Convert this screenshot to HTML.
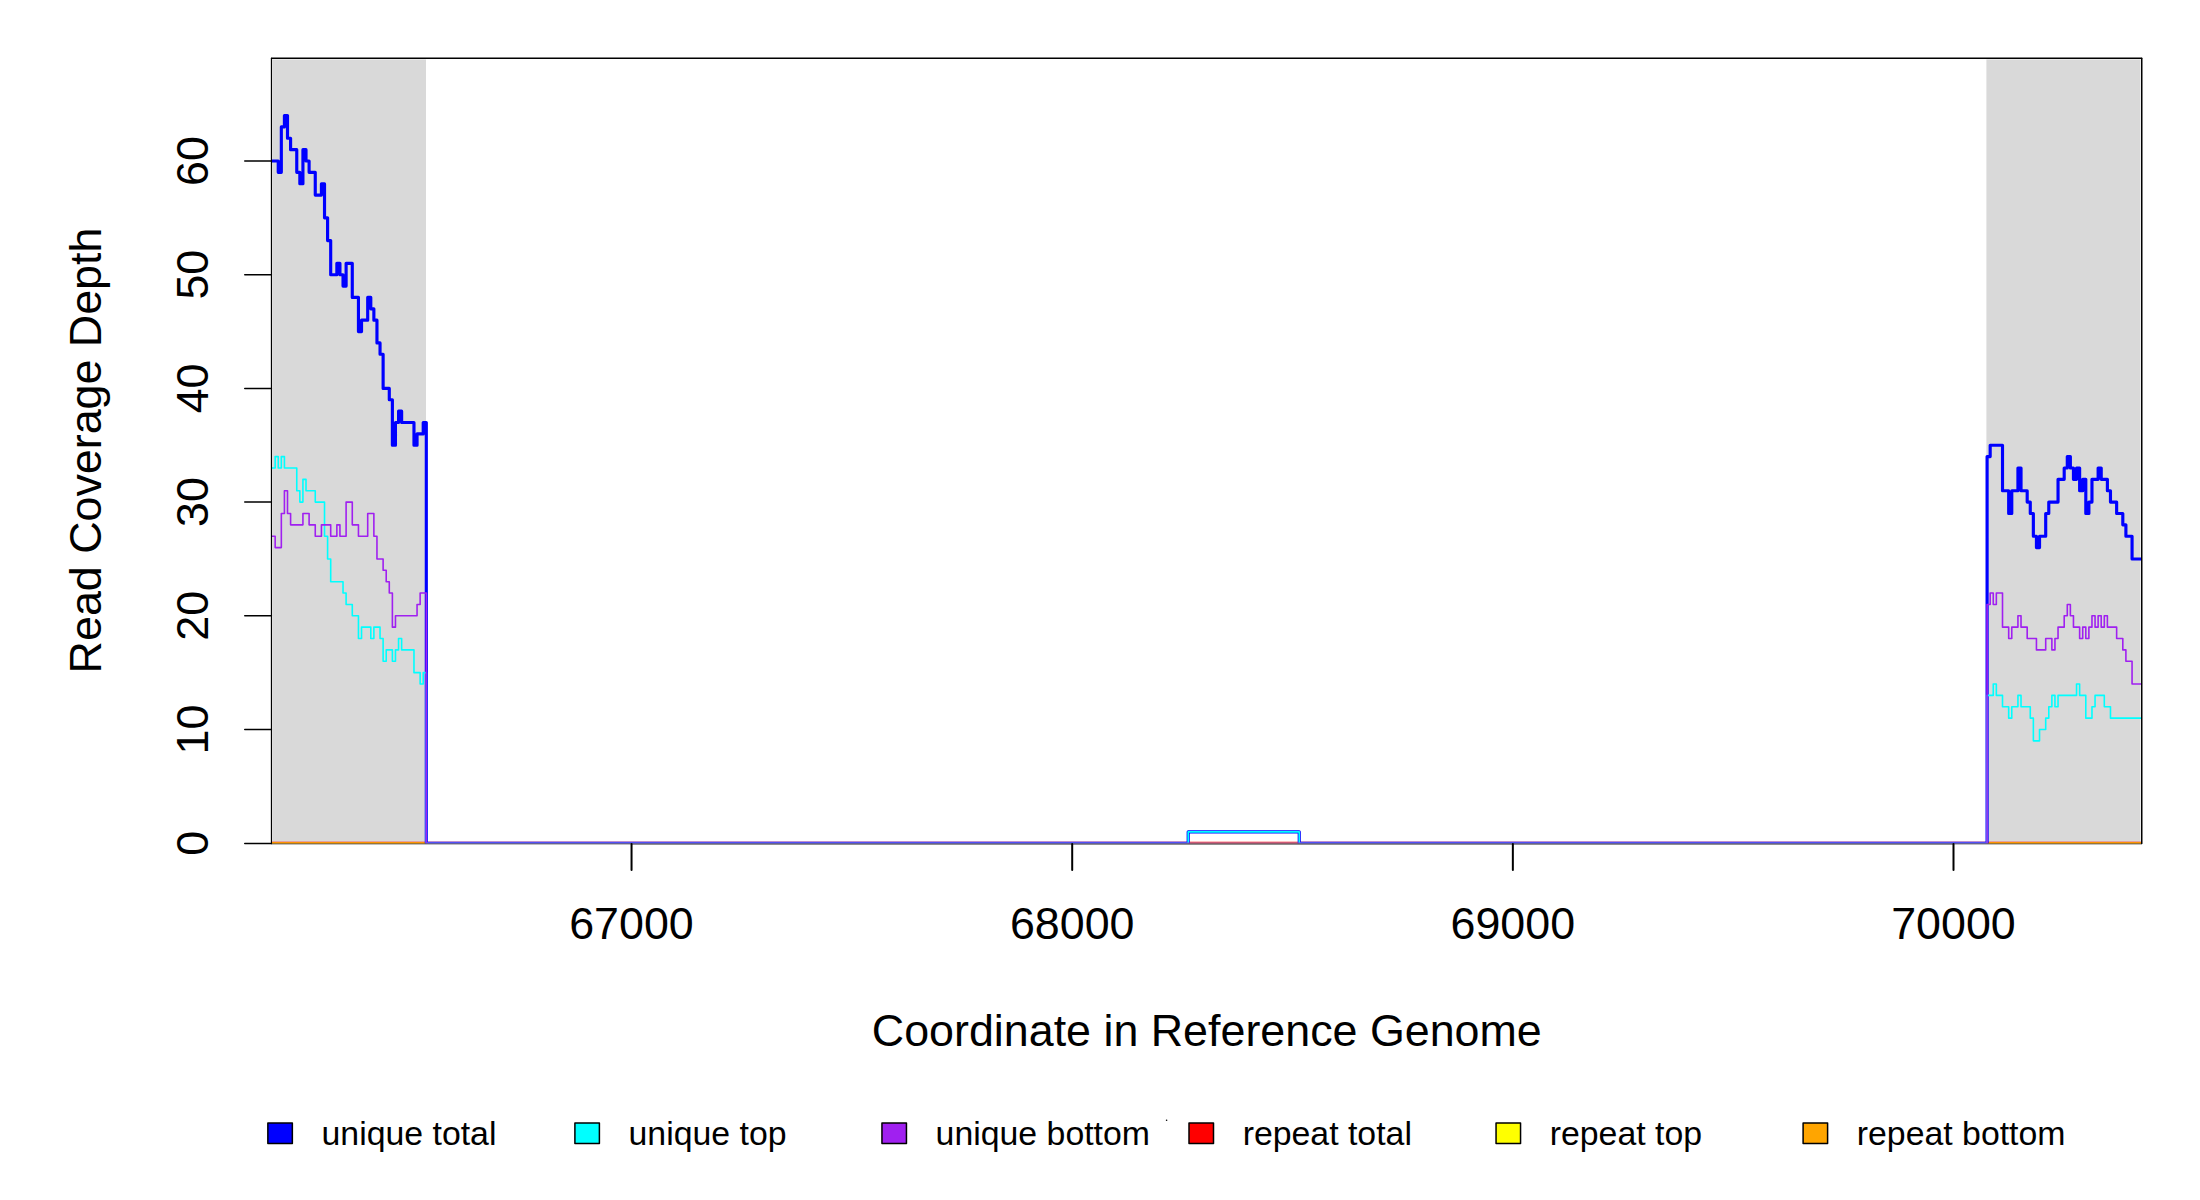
<!DOCTYPE html>
<html lang="en">
<head>
<meta charset="utf-8">
<title>Read Coverage Depth</title>
<style>
html,body{margin:0;padding:0;background:#fff;}
body{width:2200px;height:1200px;overflow:hidden;}
svg{display:block;}
text{font-family:"Liberation Sans",sans-serif;fill:#000;}
.ax{font-size:44.8px;}
.lg{font-size:33.85px;}
.k{stroke:#000;stroke-width:1.5;fill:none;stroke-linecap:round;stroke-linejoin:round;}
.d{fill:none;stroke-linejoin:round;stroke-linecap:round;}
</style>
</head>
<body>
<svg width="2200" height="1200" viewBox="0 0 2200 1200">
<rect x="0" y="0" width="2200" height="1200" fill="#ffffff"/>
<defs><clipPath id="plt"><rect x="271.35" y="58.2" width="1870.4" height="785.35"/></clipPath></defs>
<rect x="272.4" y="59.4" width="153.6" height="784.2" fill="#D9D9D9"/>
<rect x="1986.4" y="59.4" width="154.1" height="784.2" fill="#D9D9D9"/>
<path class="k" style="stroke-width:1.7;stroke-linecap:butt" d="M271.35,843.4H2141.75"/>
<path class="k" style="stroke-width:1.85;stroke-linecap:butt" d="M631.55,843.4H1953.5"/>
<g clip-path="url(#plt)">
<path class="d" stroke="#FF0000" stroke-width="3" d="M269.00,843.20H2144.40"/>
<path class="d" stroke="#FFFF00" stroke-width="1.5" d="M269.00,843.20H2144.40"/>
<path class="d" stroke="#FFA500" stroke-width="1.5" d="M269.00,843.20H2144.40"/>
<path class="d" stroke="#0000FF" stroke-width="3.15" d="M269.00,161.00H278.25V172.37H281.33V126.89H284.42V115.52H287.50V138.26H290.59V149.63H296.76V172.37H299.84V183.74H302.93V149.63H306.01V161.00H309.10V172.37H315.26V195.11H321.43V183.74H324.52V217.85H327.60V240.59H330.69V274.70H336.86V263.33H339.94V274.70H343.03V286.07H346.11V263.33H352.28V297.44H358.45V331.55H361.53V320.18H367.70V297.44H370.79V308.81H373.87V320.18H376.96V342.92H380.04V354.29H383.12V388.40H389.29V399.77H392.38V445.25H395.46V422.51H398.55V411.14H401.63V422.51H413.97V445.25H417.05V433.88H423.22V422.51H426.31V843.20H1188.19V831.83H1299.24V843.20H1987.09V456.62H1990.18V445.25H2002.51V490.73H2008.68V513.47H2011.77V490.73H2017.94V467.99H2021.02V490.73H2027.19V502.10H2030.27V513.47H2033.36V536.21H2036.44V547.58H2039.53V536.21H2045.70V513.47H2048.78V502.10H2058.04V479.36H2064.20V467.99H2067.29V456.62H2070.37V467.99H2073.46V479.36H2076.54V467.99H2079.63V490.73H2082.71V479.36H2085.80V513.47H2088.88V502.10H2091.97V479.36H2098.13V467.99H2101.22V479.36H2107.39V490.73H2110.47V502.10H2116.64V513.47H2122.81V524.84H2125.90V536.21H2132.06V558.95H2144.40"/>
<path class="d" stroke="#00FFFF" stroke-width="1.6" d="M269.00,467.99H275.17V456.62H278.25V467.99H281.33V456.62H284.42V467.99H296.76V490.73H299.84V502.10H302.93V479.36H306.01V490.73H315.26V502.10H324.52V536.21H327.60V558.95H330.69V581.69H343.03V593.06H346.11V604.43H352.28V615.80H358.45V638.54H361.53V627.17H370.79V638.54H373.87V627.17H380.04V638.54H383.12V661.28H386.21V649.91H392.38V661.28H395.46V649.91H398.55V638.54H401.63V649.91H413.97V672.65H420.14V684.02H423.22V672.65H426.31V843.20H1188.19V831.83H1299.24V843.20H1987.09V695.39H1993.26V684.02H1996.34V695.39H2002.51V706.76H2008.68V718.13H2011.77V706.76H2017.94V695.39H2021.02V706.76H2030.27V718.13H2033.36V740.87H2039.53V729.50H2045.70V718.13H2048.78V706.76H2051.87V695.39H2054.95V706.76H2058.04V695.39H2076.54V684.02H2079.63V695.39H2085.80V718.13H2091.97V706.76H2095.05V695.39H2104.30V706.76H2110.47V718.13H2144.40"/>
<path class="d" stroke="#A020F0" stroke-width="1.6" d="M269.00,536.21H275.17V547.58H281.33V513.47H284.42V490.73H287.50V513.47H290.59V524.84H302.93V513.47H309.10V524.84H315.26V536.21H321.43V524.84H330.69V536.21H336.86V524.84H339.94V536.21H346.11V502.10H352.28V524.84H358.45V536.21H367.70V513.47H373.87V536.21H376.96V558.95H383.12V570.32H386.21V581.69H389.29V593.06H392.38V627.17H395.46V615.80H417.05V604.43H420.14V593.06H426.31V843.20H1987.09V604.43H1990.18V593.06H1993.26V604.43H1996.34V593.06H2002.51V627.17H2008.68V638.54H2011.77V627.17H2017.94V615.80H2021.02V627.17H2027.19V638.54H2036.44V649.91H2045.70V638.54H2051.87V649.91H2054.95V638.54H2058.04V627.17H2064.20V615.80H2067.29V604.43H2070.37V615.80H2073.46V627.17H2079.63V638.54H2082.71V627.17H2085.80V638.54H2088.88V627.17H2091.97V615.80H2095.05V627.17H2098.13V615.80H2101.22V627.17H2104.30V615.80H2107.39V627.17H2116.64V638.54H2122.81V649.91H2125.90V661.28H2132.06V684.02H2144.40"/>
</g>
<rect x="272" y="843" width="1869" height="1" fill="#5a5a5a" fill-opacity="0.5" shape-rendering="crispEdges"/>
<path class="k" style="stroke-width:1.2" d="M271.45,843.6V58.2"/>
<path class="k" style="stroke-linecap:butt" d="M271.35,58.2H2141.75"/>
<path class="k" d="M2141.75,58.2V843.6"/>
<path class="k" style="stroke-width:2" d="M631.55,844V870"/>
<text class="ax" x="631.5" y="938.5" text-anchor="middle">67000</text>
<path class="k" style="stroke-width:2" d="M1072.20,844V870"/>
<text class="ax" x="1072.2" y="938.5" text-anchor="middle">68000</text>
<path class="k" style="stroke-width:2" d="M1512.85,844V870"/>
<text class="ax" x="1512.8" y="938.5" text-anchor="middle">69000</text>
<path class="k" style="stroke-width:2" d="M1953.50,844V870"/>
<text class="ax" x="1953.5" y="938.5" text-anchor="middle">70000</text>
<path class="k" d="M244.75,843.40H271.35"/>
<text class="ax" transform="translate(207.5,843.20) rotate(-90)" text-anchor="middle">0</text>
<path class="k" d="M244.75,729.50H271.35"/>
<text class="ax" transform="translate(207.5,729.50) rotate(-90)" text-anchor="middle">10</text>
<path class="k" d="M244.75,615.80H271.35"/>
<text class="ax" transform="translate(207.5,615.80) rotate(-90)" text-anchor="middle">20</text>
<path class="k" d="M244.75,502.10H271.35"/>
<text class="ax" transform="translate(207.5,502.10) rotate(-90)" text-anchor="middle">30</text>
<path class="k" d="M244.75,388.40H271.35"/>
<text class="ax" transform="translate(207.5,388.40) rotate(-90)" text-anchor="middle">40</text>
<path class="k" d="M244.75,274.70H271.35"/>
<text class="ax" transform="translate(207.5,274.70) rotate(-90)" text-anchor="middle">50</text>
<path class="k" d="M244.75,161.00H271.35"/>
<text class="ax" transform="translate(207.5,161.00) rotate(-90)" text-anchor="middle">60</text>
<text class="ax" x="1206.8" y="1045.5" text-anchor="middle">Coordinate in Reference Genome</text>
<text class="ax" transform="translate(100.8,450.5) rotate(-90)" text-anchor="middle">Read Coverage Depth</text>
<rect x="267.85" y="1123" width="24.5" height="20.4" fill="#0000FF" stroke="#000" stroke-width="1.5" stroke-linejoin="round"/>
<text class="lg" x="321.50" y="1145.3">unique total</text>
<rect x="574.90" y="1123" width="24.5" height="20.4" fill="#00FFFF" stroke="#000" stroke-width="1.5" stroke-linejoin="round"/>
<text class="lg" x="628.55" y="1145.3">unique top</text>
<rect x="881.95" y="1123" width="24.5" height="20.4" fill="#A020F0" stroke="#000" stroke-width="1.5" stroke-linejoin="round"/>
<text class="lg" x="935.60" y="1145.3">unique bottom</text>
<rect x="1189.00" y="1123" width="24.5" height="20.4" fill="#FF0000" stroke="#000" stroke-width="1.5" stroke-linejoin="round"/>
<text class="lg" x="1242.65" y="1145.3">repeat total</text>
<rect x="1496.05" y="1123" width="24.5" height="20.4" fill="#FFFF00" stroke="#000" stroke-width="1.5" stroke-linejoin="round"/>
<text class="lg" x="1549.70" y="1145.3">repeat top</text>
<rect x="1803.10" y="1123" width="24.5" height="20.4" fill="#FFA500" stroke="#000" stroke-width="1.5" stroke-linejoin="round"/>
<text class="lg" x="1856.75" y="1145.3">repeat bottom</text>
<circle cx="1166.6" cy="1120.3" r="0.8" fill="#000"/>
</svg>
</body>
</html>
